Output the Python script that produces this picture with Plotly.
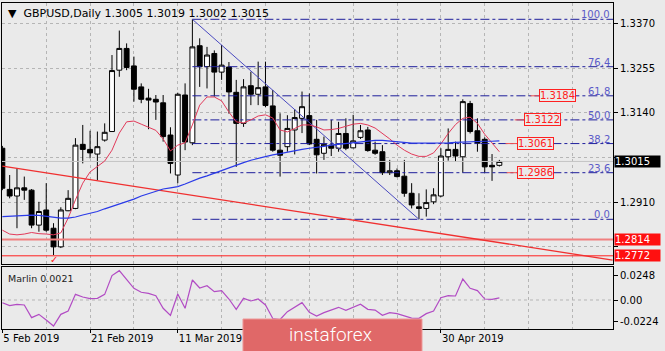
import plotly.graph_objects as go

# ---------------- data ----------------
opens = [1.3049, 1.2943, 1.2926, 1.2947, 1.2941, 1.2851, 1.2890, 1.2843, 1.2795, 1.2888,
         1.2894, 1.3059, 1.3046, 1.3034, 1.3070, 1.3092, 1.3250, 1.3306, 1.3261, 1.3207,
         1.3178, 1.3175, 1.3166, 1.3083, 1.2980, 1.3186, 1.3063, 1.3313, 1.3259, 1.3293,
         1.3245, 1.3258, 1.3193, 1.3113, 1.3210, 1.3188, 1.3207, 1.3158, 1.3044, 1.3053,
         1.3096, 1.3126, 1.3133, 1.3072, 1.3036, 1.3057, 1.3049, 1.3087, 1.3050, 1.3077,
         1.3096, 1.3044, 1.3040, 1.2986, 1.2991, 1.2977, 1.2933, 1.2898, 1.2894, 1.2911,
         1.2926, 1.3027, 1.3046, 1.3027, 1.3164, 1.3094, 1.3072, 1.3005, 1.3005]
highs = [1.3055, 1.2980, 1.2997, 1.2976, 1.2944, 1.2911, 1.2959, 1.2856, 1.2897, 1.2941,
         1.3075, 1.3109, 1.3094, 1.3092, 1.3113, 1.3289, 1.3352, 1.3319, 1.3285, 1.3216,
         1.3202, 1.3186, 1.3186, 1.3103, 1.3192, 1.3216, 1.3381, 1.3332, 1.3310, 1.3301,
         1.3315, 1.3271, 1.3225, 1.3227, 1.3246, 1.3272, 1.3272, 1.3199, 1.3139, 1.3134,
         1.3150, 1.3195, 1.3190, 1.3122, 1.3079, 1.3122, 1.3117, 1.3126, 1.3135, 1.3109,
         1.3104, 1.3066, 1.3057, 1.3019, 1.2997, 1.3019, 1.2959, 1.2933, 1.2943, 1.2946,
         1.3049, 1.3100, 1.3066, 1.3175, 1.3171, 1.3126, 1.3077, 1.3034, 1.3019]
lows = [1.2941, 1.2920, 1.2843, 1.2916, 1.2843, 1.2834, 1.2834, 1.2774, 1.2792, 1.2887,
        1.2892, 1.3010, 1.3023, 1.2967, 1.3066, 1.3092, 1.3233, 1.3250, 1.3169, 1.3165,
        1.3098, 1.3122, 1.3066, 1.2984, 1.2959, 1.3044, 1.3057, 1.3207, 1.3203, 1.3182,
        1.3225, 1.3138, 1.3001, 1.3104, 1.3160, 1.3160, 1.3155, 1.3040, 1.2976, 1.3040,
        1.3033, 1.3088, 1.3057, 1.2984, 1.3019, 1.3029, 1.3040, 1.3044, 1.3049, 1.3073,
        1.3040, 1.3032, 1.2980, 1.2980, 1.2974, 1.2924, 1.2894, 1.2866, 1.2873, 1.2905,
        1.2923, 1.3017, 1.3014, 1.2986, 1.3087, 1.3040, 1.2986, 1.2965, 1.3002]
closes = [1.2946, 1.2926, 1.2947, 1.2941, 1.2851, 1.2886, 1.2838, 1.2795, 1.2890, 1.2920,
          1.3057, 1.3046, 1.3037, 1.3053, 1.3090, 1.3249, 1.3306, 1.3257, 1.3201, 1.3175,
          1.3173, 1.3168, 1.3079, 1.3010, 1.3188, 1.3065, 1.3310, 1.3259, 1.3289, 1.3245,
          1.3263, 1.3194, 1.3113, 1.3207, 1.3188, 1.3205, 1.3159, 1.3044, 1.3031, 1.3100,
          1.3128, 1.3156, 1.3060, 1.3032, 1.3059, 1.3049, 1.3087, 1.3049, 1.3068, 1.3094,
          1.3043, 1.3036, 1.2986, 1.2991, 1.2976, 1.2933, 1.2903, 1.2894, 1.2909, 1.2929,
          1.3029, 1.3046, 1.3029, 1.3169, 1.3092, 1.3062, 1.3001, 1.3001, 1.3015]
red_ma = [1.2838, 1.2828, 1.2826, 1.2828, 1.2832, 1.2829, 1.2828, 1.2826, 1.2831, 1.2869,
          1.2916, 1.2959, 1.2988, 1.3003, 1.3016, 1.3044, 1.3088, 1.3117, 1.3119, 1.3111,
          1.3102, 1.3095, 1.3073, 1.3042, 1.3057, 1.3063, 1.3109, 1.3160, 1.3181, 1.3181,
          1.3171, 1.3142, 1.3117, 1.3114, 1.3122, 1.3132, 1.3135, 1.3127, 1.3096, 1.3091,
          1.3100, 1.3109, 1.3109, 1.3104, 1.3096, 1.3097, 1.3100, 1.3106, 1.3111, 1.3113,
          1.3109, 1.3101, 1.3088, 1.3073, 1.3057, 1.3044, 1.3034, 1.3028, 1.3028, 1.3037,
          1.3060, 1.3087, 1.3110, 1.3126, 1.3129, 1.3113, 1.3085, 1.3061, 1.3040]
blue_ma = [1.2873, 1.2874, 1.2875, 1.2876, 1.2877, 1.2876, 1.2874, 1.2872, 1.2869, 1.2869,
           1.2872, 1.2877, 1.2881, 1.2886, 1.2893, 1.2899, 1.2905, 1.2912, 1.2918, 1.2926,
           1.2932, 1.2939, 1.2944, 1.2947, 1.2950, 1.2957, 1.2965, 1.2972, 1.2978, 1.2985,
           1.2992, 1.2999, 1.3007, 1.3012, 1.3018, 1.3023, 1.3028, 1.3032, 1.3035, 1.3039,
           1.3043, 1.3046, 1.3049, 1.3051, 1.3054, 1.3057, 1.3059, 1.3061, 1.3063, 1.3065,
           1.3067, 1.3069, 1.3069, 1.3067, 1.3065, 1.3063, 1.3062, 1.3062, 1.3062, 1.3062,
           1.3063, 1.3063, 1.3064, 1.3065, 1.3066, 1.3066, 1.3067, 1.3067, 1.3068]
marlin = [-0.0028, -0.0058, -0.0044, -0.0051, -0.0181, -0.0147, -0.0205, -0.0267, -0.0147, -0.0113,
          0.0058, 0.0031, 0.0014, 0.0017, 0.0058, 0.0250, 0.0301, 0.0215, 0.0120, 0.0079,
          0.0068, 0.0044, -0.0085, -0.0157, 0.0062, -0.0085, 0.0205, 0.0123, 0.0147, 0.0085,
          0.0096, 0.0010, -0.0096, 0.0017, -0.0010, 0.0010, -0.0051, -0.0190, -0.0200, -0.0120,
          -0.0075, -0.0027, -0.0127, -0.0164, -0.0130, -0.0100, -0.0075, -0.0106, -0.0075, -0.0044,
          -0.0096, -0.0103, -0.0157, -0.0130, -0.0140, -0.0160, -0.0185, -0.0188, -0.0140, -0.0113,
          0.0024, 0.0044, 0.0041, 0.0215, 0.0120, 0.0096, 0.0010, 0.0007, 0.0021]
bars = list(range(len(opens)))

# date ticks (27 Mar / 12 Apr are hidden behind the banner in the reference)
tick_idx = [0, 12, 24, 36, 48, 60]
tick_text = ["5 Feb 2019", "21 Feb 2019", "11 Mar 2019", "", "", "30 Apr 2019"]
minor_grid_idx = [6, 18, 30, 42, 54, 66, 72, 78]

# price ticks (1.3025 / 1.2795 are hidden behind the price boxes in the reference)
price_ticks = [1.3370, 1.3255, 1.3140, 1.3025, 1.2910, 1.2795]
price_tick_text = ["1.3370", "1.3255", "1.3140", "", "1.2910", ""]
marlin_ticks = [0.0248, 0.0, -0.0224]
marlin_tick_text = ["0.0248", "0.00", "-0.0224"]

fib_pct = ["100.0", "76.4", "61.8", "50.0", "38.2", "23.6", "0.0"]
fib_price = [1.3381, 1.3259, 1.3184, 1.3122, 1.3061, 1.2986, 1.2866]
fib_start_bar = 26

level_lines = [1.2814, 1.2772]
red_trend_x = [0, 83.5]
red_trend_y = [1.3003, 1.2761]
blue_trend_x = [26, 57]
blue_trend_y = [1.3381, 1.2866]
label_prices = [1.3184, 1.3122, 1.3061, 1.2986]
last_price = 1.3015
symbol_title = "▼\u00a0\u00a0GBPUSD,Daily 1.3005 1.3019 1.3002 1.3015"
marlin_title = "Marlin 0.0021"
check_bar, check_price = 7, 1.2762

# ---------------- style ----------------
BG = "#EAEAEA"
GRID = "#B5B5B5"
FONT = "DejaVu Sans"
X_RANGE = [-0.05, 83.55]
Y_RANGE = [1.27509, 1.34230]
Y2_RANGE = [-0.02974, 0.03385]
FIB_COLOR = "#1f1f9c"
FIB_TEXT = "#5a5ac8"
RED = "#ff2020"
label_box_x = [73.45, 71.4, 70.45, 70.4]
label_line_len = [1.2, 1.3, 1.6, 1.4]

fig = go.Figure()

# level lines
fig.add_trace(go.Scatter(x=X_RANGE, y=[last_price] * 2, mode="lines",
                         line=dict(color="#c4c4c4", width=1), hoverinfo="skip"))
fig.add_trace(go.Scatter(x=X_RANGE, y=[level_lines[0]] * 2, mode="lines",
                         line=dict(color="#f08080", width=2), hoverinfo="skip"))
fig.add_trace(go.Scatter(x=X_RANGE, y=[level_lines[1]] * 2, mode="lines",
                         line=dict(color=RED, width=1), hoverinfo="skip"))

# fib lines
for p in fib_price:
    fig.add_trace(go.Scatter(x=[fib_start_bar, X_RANGE[1]], y=[p, p], mode="lines",
                             line=dict(color=FIB_COLOR, width=1, dash="dashdot"), hoverinfo="skip"))

# trend lines
fig.add_trace(go.Scatter(x=red_trend_x, y=red_trend_y, mode="lines",
                         line=dict(color="#f03030", width=1.3), hoverinfo="skip"))
fig.add_trace(go.Scatter(x=blue_trend_x, y=blue_trend_y, mode="lines",
                         line=dict(color="#4a4ac0", width=1), hoverinfo="skip"))

# candles
fig.add_trace(go.Candlestick(
    x=bars, open=opens, high=highs, low=lows, close=closes,
    increasing=dict(line=dict(color="black", width=1), fillcolor="white"),
    decreasing=dict(line=dict(color="black", width=1), fillcolor="black"),
    whiskerwidth=0, hoverinfo="skip"))

# moving averages
fig.add_trace(go.Scatter(x=bars, y=red_ma, mode="lines",
                         line=dict(color="#e23a5a", width=1), hoverinfo="skip"))
fig.add_trace(go.Scatter(x=bars, y=blue_ma, mode="lines",
                         line=dict(color="#2a3ae8", width=1.2), hoverinfo="skip"))

# price label short lines
for p, bx, ln in zip(label_prices, label_box_x, label_line_len):
    fig.add_trace(go.Scatter(x=[bx - ln, bx], y=[p, p], mode="lines",
                             line=dict(color="#f05050", width=1), hoverinfo="skip"))

# marlin subpanel
fig.add_trace(go.Scatter(x=X_RANGE, y=[0, 0], mode="lines", xaxis="x2", yaxis="y2",
                         line=dict(color=GRID, width=1, dash="dot"), hoverinfo="skip"))
fig.add_trace(go.Scatter(x=bars, y=marlin, mode="lines", xaxis="x2", yaxis="y2",
                         line=dict(color="#b24cc4", width=1.2), hoverinfo="skip"))

annotations = []
# fib level texts
for t, p in zip(fib_pct, fib_price):
    annotations.append(dict(x=X_RANGE[1], y=p, xref="x", yref="y", text=t, showarrow=False,
                            xanchor="right", yanchor="bottom", xshift=-1, yshift=-3,
                            font=dict(family=FONT, size=10, color=FIB_TEXT)))
# red price labels
for p, bx in zip(label_prices, label_box_x):
    annotations.append(dict(x=bx, y=p, xref="x", yref="y", text=f"{p:.4f}", showarrow=False,
                            xanchor="left", yanchor="middle", bgcolor=BG, bordercolor=RED,
                            borderwidth=1, borderpad=0,
                            font=dict(family=FONT, size=10, color=RED)))
# right axis boxes
annotations.append(dict(x=1, y=last_price, xref="paper", yref="y", text=f"{last_price:.4f}",
                        showarrow=False, xanchor="left", yanchor="middle", xshift=1,
                        bgcolor="black", borderpad=0, width=45, align="left",
                        font=dict(family=FONT, size=10, color="white")))
for p in level_lines:
    annotations.append(dict(x=1, y=p, xref="paper", yref="y", text=f"{p:.4f}",
                            showarrow=False, xanchor="left", yanchor="middle", xshift=1,
                            bgcolor="#ff1010", borderpad=0, width=45, align="left",
                            font=dict(family=FONT, size=10, color="white")))
# titles
annotations.append(dict(x=0, y=1, xref="paper", yref="paper", text=symbol_title, showarrow=False,
                        xanchor="left", yanchor="top", xshift=4, yshift=-2,
                        font=dict(family=FONT, size=11, color="black")))
annotations.append(dict(x=0, y=0.1902, xref="paper", yref="paper", text=marlin_title,
                        showarrow=False, xanchor="left", yanchor="top", xshift=4, yshift=-4,
                        font=dict(family=FONT, size=9.5, color="#222222")))
annotations.append(dict(x=check_bar, y=check_price, xref="x", yref="y", text="✓", showarrow=False,
                        font=dict(family=FONT, size=10, color=RED)))
# banner text
annotations.append(dict(x=0.538, y=-0.018, xref="paper", yref="paper", text="instaforex",
                        showarrow=False, xanchor="center", yanchor="middle",
                        font=dict(family="Roboto", size=19, color="white", weight=300)))

shapes = [dict(type="rect", xref="paper", yref="paper", x0=0.3944, x1=0.6874, y0=-0.08, y1=0.0307,
               fillcolor="#e06868", line=dict(color="#ee9a9a", width=1), layer="above")]

axis_common = dict(showline=True, linecolor="black", linewidth=1, mirror=True, zeroline=False)
fig.update_layout(
    width=665, height=351,
    margin=dict(l=2, r=52, t=3, b=22),
    paper_bgcolor=BG, plot_bgcolor=BG,
    showlegend=False,
    boxgap=0.33, boxgroupgap=0,
    annotations=annotations, shapes=shapes,
    font=dict(family=FONT, size=10, color="black"),
    xaxis=dict(domain=[0, 1], range=X_RANGE, anchor="y", showticklabels=False, ticks="",
               tickmode="array", tickvals=tick_idx,
               showgrid=True, gridcolor=GRID, griddash="dot", gridwidth=1,
               minor=dict(tickmode="array", tickvals=minor_grid_idx, showgrid=True,
                          gridcolor=GRID, griddash="dot", ticks=""),
               rangeslider=dict(visible=False), **axis_common),
    yaxis=dict(domain=[0.1994, 1], range=Y_RANGE, anchor="x", side="right",
               tickmode="array", tickvals=price_ticks, ticktext=price_tick_text,
               ticks="outside", ticklen=4, tickcolor="black",
               showgrid=True, gridcolor=GRID, griddash="dot",
               tickfont=dict(family=FONT, size=10, color="black"), **axis_common),
    xaxis2=dict(domain=[0, 1], range=X_RANGE, anchor="y2", matches="x",
                tickmode="array", tickvals=tick_idx, ticktext=tick_text,
                ticks="outside", ticklen=3, tickcolor="black",
                ticklabelposition="outside right",
                showgrid=True, gridcolor=GRID, griddash="dot",
                minor=dict(tickmode="array", tickvals=minor_grid_idx, showgrid=True,
                           gridcolor=GRID, griddash="dot", ticks=""),
                tickfont=dict(family=FONT, size=10, color="black"), **axis_common),
    yaxis2=dict(domain=[0, 0.1902], range=Y2_RANGE, anchor="x2", side="right",
                tickmode="array", tickvals=marlin_ticks, ticktext=marlin_tick_text,
                ticks="outside", ticklen=4, tickcolor="black", showgrid=False,
                tickfont=dict(family=FONT, size=10, color="black"), **axis_common),
)

fig.write_html("out.html")
